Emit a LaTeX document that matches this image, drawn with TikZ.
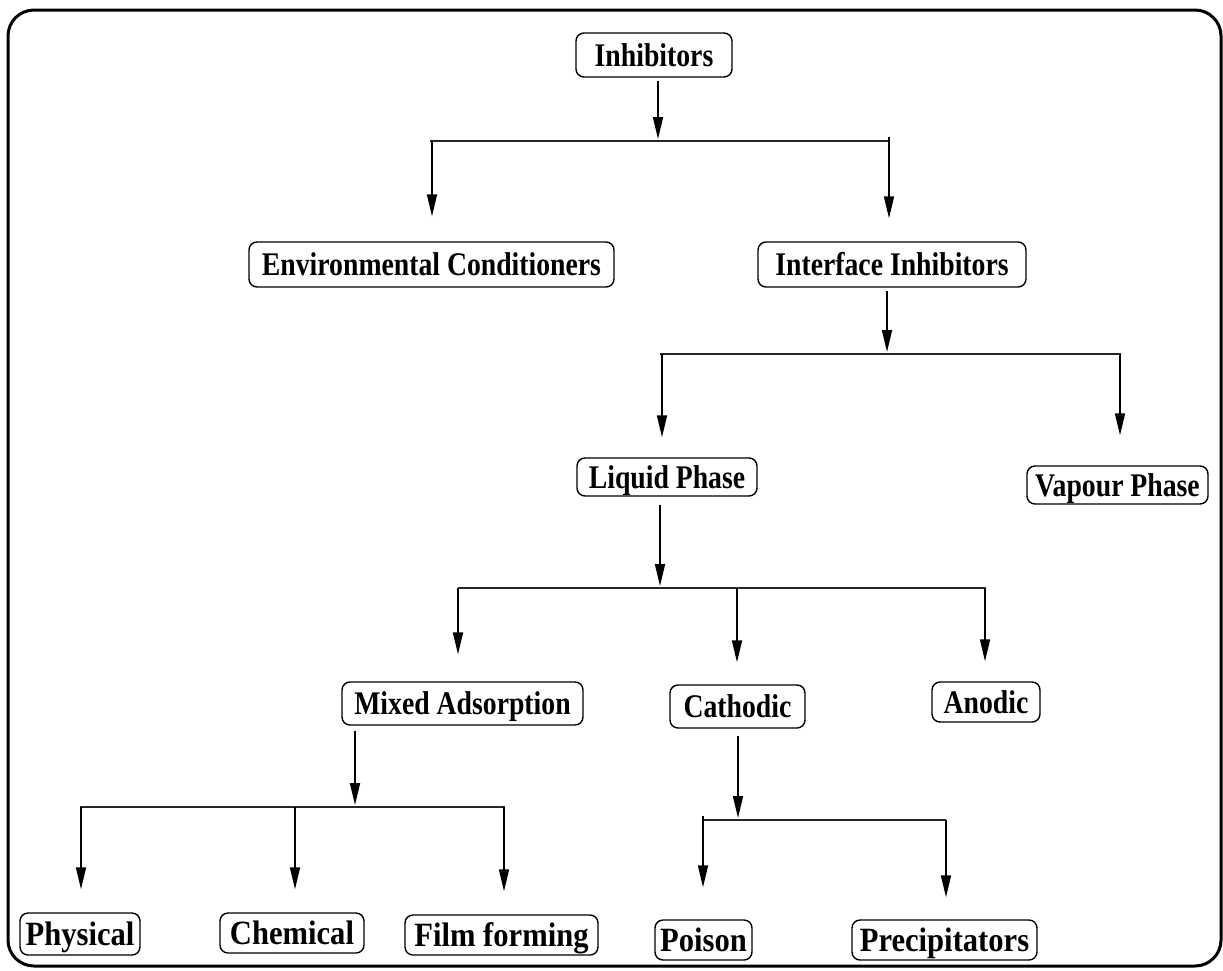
\documentclass[tikz,border=0pt]{standalone}
\usepackage{fontspec}
\setmainfont{Liberation Serif}[FakeStretch=0.84]
\newfontfamily\widefont{Liberation Serif}[FakeStretch=0.9]
\usetikzlibrary{arrows.meta}
\begin{document}
\begin{tikzpicture}[x=1pt,y=-1pt,
  box/.style={draw, line width=1.4pt, rounded corners=8pt, inner sep=0pt,
    font=\fontsize{33}{38}\selectfont\bfseries, text height=22pt, text depth=0pt},
  lowbox/.style={box, font=\widefont\fontsize{34}{38}\selectfont\bfseries},
  arr/.style={line width=1.7pt, -{Triangle[length=22pt,width=10pt]}},
  bar/.style={line width=1.8pt, draw=black!85}]
\useasboundingbox (0,0) rectangle (1223,970);
\draw[line width=3pt, rounded corners=26pt] (8,10) rectangle (1221,966);

% nodes
\node[box, minimum width=156pt, minimum height=44pt] (inh) at (654,55) {Inhibitors};
\node[box, minimum width=365pt, minimum height=45pt] (env) at (431.5,264.5) {Environmental Conditioners};
\node[box, minimum width=268pt, minimum height=45pt] (ifc) at (892,264.5) {Interface Inhibitors};
\node[box, minimum width=180pt, minimum height=38pt] (liq) at (667,477) {Liquid Phase};
\node[box, minimum width=181pt, minimum height=38pt] (vap) at (1117.5,485) {Vapour Phase};
\node[box, minimum width=241pt, minimum height=43pt] (mix) at (462.5,703.5) {Mixed Adsorption};
\node[box, minimum width=135pt, minimum height=43pt] (cat) at (737.5,706.5) {Cathodic};
\node[box, minimum width=108pt, minimum height=40pt] (ano) at (986,702) {Anodic};
\node[lowbox, minimum width=120pt, minimum height=42pt] (phy) at (80,934) {Physical};
\node[lowbox, minimum width=144pt, minimum height=40pt] (che) at (292,933) {Chemical};
\node[lowbox, minimum width=193pt, minimum height=40pt] (fil) at (501.5,935) {Film forming};
\node[lowbox, minimum width=97pt, minimum height=40pt] (poi) at (703.5,940) {Poison};
\node[lowbox, minimum width=185pt, minimum height=40pt] (pre) at (944.5,940) {Precipitators};

% level 1
\coordinate (j1) at (658,139);
\coordinate (b1l) at (430,141);
\coordinate (b1r) at (890,141);
\coordinate (d1a) at (432,141);
\coordinate (d1b) at (889,137);
\draw[arr, shorten <=3pt] (inh.south -| j1) -- (j1);
\draw[bar] (b1l) -- (b1r);
\draw[arr, shorten >=25pt] (d1a) -- (d1a |- env.north);
\draw[arr, shorten >=23pt] (d1b) -- (d1b |- ifc.north);

% level 2
\coordinate (j2) at (887,352);
\coordinate (b2l) at (660,354);
\coordinate (b2r) at (1121,354);
\coordinate (d2a) at (662,354);
\coordinate (d2b) at (1120,354);
\draw[arr, shorten <=3pt] (ifc.south -| j2) -- (j2);
\draw[bar] (b2l) -- (b2r);
\draw[arr, shorten >=20pt] (d2a) -- (d2a |- liq.north);
\draw[arr, shorten >=30pt] (d2b) -- (d2b |- vap.north);

% level 3
\coordinate (j3) at (660,586);
\coordinate (b3l) at (458,588);
\coordinate (b3r) at (986,588);
\coordinate (d3a) at (458,588);
\coordinate (d3b) at (737,588);
\coordinate (d3c) at (985,588);
\draw[arr, shorten <=8pt] (liq.south -| j3) -- (j3);
\draw[bar] (b3l) -- (b3r);
\draw[arr, shorten >=27pt] (d3a) -- (d3a |- mix.north);
\draw[arr, shorten >=22pt] (d3b) -- (d3b |- cat.north);
\draw[arr, shorten >=20pt] (d3c) -- (d3c |- ano.north);

% level 4 (mixed adsorption)
\coordinate (j4) at (355,805);
\coordinate (b4l) at (80,807);
\coordinate (b4r) at (505,807);
\coordinate (d4a) at (81,807);
\coordinate (d4b) at (295,807);
\coordinate (d4c) at (504,807);
\draw[arr, shorten <=5pt] (mix.south -| j4) -- (j4);
\draw[bar] (b4l) -- (b4r);
\draw[arr, shorten >=23pt] (d4a) -- (d4a |- phy.north);
\draw[arr, shorten >=23pt] (d4b) -- (d4b |- che.north);
\draw[arr, shorten >=23pt] (d4c) -- (d4c |- fil.north);

% level 4 (cathodic)
\coordinate (j5) at (738,818);
\coordinate (b5l) at (703,820);
\coordinate (b5r) at (946,820);
\coordinate (d5a) at (703,816);
\coordinate (d5b) at (946,820);
\draw[arr, shorten <=7pt] (cat.south -| j5) -- (j5);
\draw[bar] (b5l) -- (b5r);
\draw[arr, shorten >=32pt] (d5a) -- (d5a |- poi.north);
\draw[arr, shorten >=22pt] (d5b) -- (d5b |- pre.north);
\end{tikzpicture}
\end{document}
